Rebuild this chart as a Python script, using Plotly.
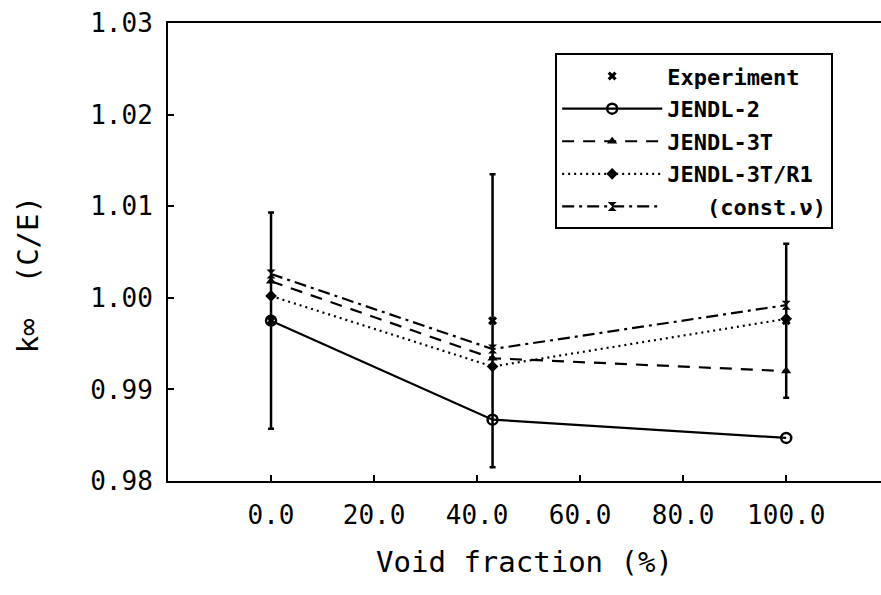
import plotly.graph_objects as go

# ---- data ----
void_fraction = [0.0, 43.0, 100.0]
experiment = [0.9975, 0.9975, 0.9975]
experiment_err = [0.0118, 0.0160, 0.0084]
jendl2 = [0.9975, 0.9867, 0.9847]
jendl3t = [1.0018, 0.9934, 0.9920]
jendl3t_r1 = [1.0002, 0.9925, 0.9977]
const_nu = [1.0026, 0.9944, 0.9992]

x_tickvals = [0, 20, 40, 60, 80, 100]
x_ticktext = ["0.0", "20.0", "40.0", "60.0", "80.0", "100.0"]
y_tickvals = [0.98, 0.99, 1.00, 1.01, 1.02, 1.03]
y_ticktext = ["0.98", "0.99", "1.00", "1.01", "1.02", "1.03"]

MONO = "DejaVu Sans Mono"
fig = go.Figure()

fig.add_trace(go.Scatter(
    x=void_fraction, y=experiment, mode="markers", name="Experiment",
    legendgroup="a",
    marker=dict(symbol="x", size=8, color="black"),
    error_y=dict(type="data", array=experiment_err, color="black",
                 thickness=2.5, width=3),
))
fig.add_trace(go.Scatter(
    x=void_fraction, y=jendl2, mode="lines+markers", name="JENDL-2",
    legendgroup="b",
    line=dict(color="black", width=2.2),
    marker=dict(symbol="circle-open", size=10, color="black",
                line=dict(width=2.5, color="black")),
))
fig.add_trace(go.Scatter(
    x=void_fraction, y=jendl3t, mode="lines+markers", name="JENDL-3T",
    legendgroup="c",
    line=dict(color="black", width=2.2, dash="12px,9px"),
    marker=dict(symbol="triangle-up", size=9, color="black"),
))
fig.add_trace(go.Scatter(
    x=void_fraction, y=jendl3t_r1, mode="lines+markers", name="JENDL-3T/R1",
    legendgroup="d",
    line=dict(color="black", width=2.2, dash="2px,4px"),
    marker=dict(symbol="diamond", size=9, color="black"),
))
fig.add_trace(go.Scatter(
    x=void_fraction, y=const_nu, mode="lines+markers",
    name="\u00a0\u00a0\u00a0(const.\u03bd)",
    legendgroup="e",
    line=dict(color="black", width=2.2, dash="12px,5px,3px,5px"),
    marker=dict(symbol="hourglass", size=9, color="black"),
))

fig.update_layout(
    width=881, height=595,
    margin=dict(l=168, r=0, t=23, b=114),
    paper_bgcolor="white", plot_bgcolor="white",
    font=dict(family=MONO, color="black"),
    showlegend=True,
    legend=dict(
        x=0.543, y=0.934, xanchor="left", yanchor="top",
        bgcolor="white", bordercolor="black", borderwidth=2,
        font=dict(family=MONO, size=22, color="black", weight="bold"),
        tracegroupgap=1, itemwidth=100,
    ),
    xaxis=dict(
        range=[-20, 118.4], showgrid=False, zeroline=False,
        showline=True, linecolor="black", linewidth=2, mirror=True,
        ticks="inside", ticklen=6, tickwidth=1.5, tickcolor="black",
        tickvals=x_tickvals, ticktext=x_ticktext,
        tickfont=dict(family=MONO, size=26, color="black"),
        ticklabelstandoff=10,
        title=dict(text="Void fraction (%)", standoff=22,
                   font=dict(family=MONO, size=29, color="black")),
    ),
    yaxis=dict(
        range=[0.98, 1.03], showgrid=False, zeroline=False,
        showline=True, linecolor="black", linewidth=2, mirror=False,
        ticks="inside", ticklen=6, tickwidth=1.5, tickcolor="black",
        tickvals=y_tickvals, ticktext=y_ticktext,
        tickfont=dict(family=MONO, size=26, color="black"),
        ticklabelstandoff=8,
    ),
    annotations=[dict(
        text="k\u221e  (C/E)", textangle=-90,
        xref="paper", yref="paper", x=-0.196, y=0.45,
        xanchor="center", yanchor="middle", showarrow=False,
        font=dict(family=MONO, size=29, color="black"),
    )],
)

fig.write_html("out.html")
